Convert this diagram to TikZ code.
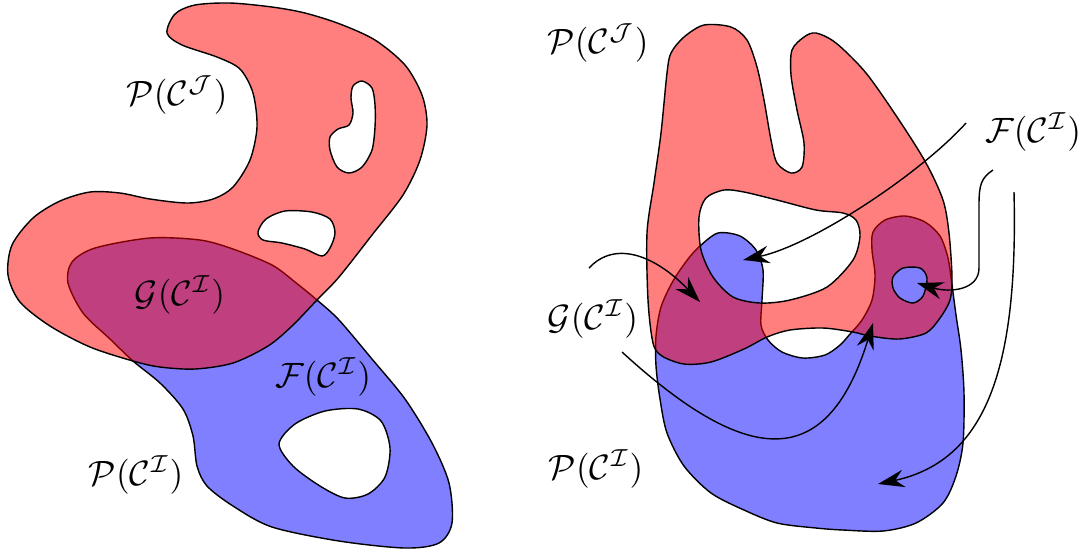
\documentclass[tikz,border=0pt]{standalone}
\usepackage{amsmath}
\usepackage{tikz}
\usetikzlibrary{arrows.meta}

\begin{document}
\begin{tikzpicture}[x=0.01cm, y=-0.01cm, >={Stealth[length=7.5pt,width=5pt,inset=2.5pt]},
	regionI/.style={draw=black, fill=blue, fill opacity=0.5, even odd rule},
	regionJ/.style={draw=black, fill=red, fill opacity=0.5, even odd rule}]
	\useasboundingbox (0,0) rectangle (1088,553);

	% Left: P(C^I) with its hole
	\draw[regionI] plot[smooth cycle] coordinates {(317,300) (339,320) (372,359) (405,399) (432,443) (449,483) (452,523) (439,543) (405,548) (339,541) (272,527) (233,506) (207,486) (197,466) (193,436) (183,409) (160,383) (133,361) (110,339) (83,313) (68,283) (72,262) (95,248) (150,238) (200,240) (233,249) (272,265) (295,282)}
		plot[smooth cycle] coordinates {(279,444) (295,424) (325,411) (358,409) (381,421) (390,448) (385,477) (368,494) (345,498) (320,486) (293,466)};

	% Left: P(C^J) with two holes
	\draw[regionJ] plot[smooth cycle] coordinates {(167,33) (175,14) (195,5) (230,3) (272,7) (305,13) (340,24) (375,40) (405,65) (422,95) (427,125) (420,160) (403,195) (372,235) (339,277) (317,300) (292,326) (268,346) (233,363) (195,369) (160,367) (133,361) (90,347) (50,326) (20,302) (8,275) (12,245) (33,218) (60,201) (90,192) (120,193) (150,199) (187,203) (213,199) (233,187) (250,160) (257,127) (253,93) (240,69) (217,57) (182,45)}
		plot[smooth cycle] coordinates {(362,81) (372,88) (375,105) (375,127) (372,150) (362,167) (349,173) (337,167) (330,150) (330,137) (338,129) (349,125) (353,113) (351,98) (353,86)}
		plot[smooth cycle] coordinates {(258,232) (266,219) (285,211) (312,212) (330,219) (335,233) (330,248) (322,256) (305,249) (282,243) (263,240)};

	% Left labels
	\node (pjl) at (177,95) {$\mathcal{P}(\mathcal{C}^{\mathcal{J}})$};
	\node (gil) at (180,295) {$\mathcal{G}(\mathcal{C}^{\mathcal{I}})$};
	\node (fil) at (323,377) {$\mathcal{F}(\mathcal{C}^{\mathcal{I}})$};
	\node (pil) at (136,475) {$\mathcal{P}(\mathcal{C}^{\mathcal{I}})$};

	% Right: P(C^I)
	\draw[regionI] plot[smooth cycle] coordinates {(700,246) (718,233) (740,236) (756,250) (763,270) (762,300) (761,325) (768,340) (782,352) (803,358) (825,355) (840,345) (850,334) (862,320) (872,300) (875,275) (872,250) (873,232) (885,220) (905,216) (925,222) (940,236) (948,258) (952,285) (956,315) (961,350) (964,393) (963,443) (956,476) (943,503) (916,523) (883,531) (843,530) (816,528) (777,523) (744,510) (711,493) (684,466) (667,433) (660,399) (656,366) (656,336) (661,307) (673,281) (688,259)};

	% Right: P(C^J) with two holes
	\draw[regionJ] plot[smooth cycle] coordinates {(667,73) (671,53) (684,37) (704,25) (731,27) (747,40) (757,67) (764,100) (771,140) (777,163) (791,173) (802,167) (804,143) (797,110) (791,75) (792,50) (804,37) (816,33) (836,43) (866,73) (899,120) (926,163) (943,200) (949,233) (952,277) (950,300) (940,318) (926,333) (899,339) (870,336) (853,332) (823,328) (790,330) (767,337) (744,349) (711,362) (684,364) (662,356) (653,343) (648,300) (647,233) (654,183) (661,133)}
		plot[smooth cycle] coordinates {(724,190) (744,192) (777,200) (816,210) (843,213) (856,220) (860,236) (853,260) (827,287) (790,300) (760,303) (733,297) (713,277) (701,250) (699,217) (706,198)}
		plot[smooth cycle] coordinates {(893,277) (903,268) (920,268) (927,278) (923,296) (913,303) (900,298) (893,288)};

	% Right labels
	\node (pjr) at (598,43) {$\mathcal{P}(\mathcal{C}^{\mathcal{J}})$};
	\node (fir) at (1033,132) {$\mathcal{F}(\mathcal{C}^{\mathcal{I}})$};
	\node (gir) at (593,319) {$\mathcal{G}(\mathcal{C}^{\mathcal{I}})$};
	\node (pir) at (596,469) {$\mathcal{P}(\mathcal{C}^{\mathcal{I}})$};

	% arrow ends
	\coordinate (f1) at (966,123);
	\coordinate (f2) at (993,170);
	\coordinate (f3) at (1014,192);
	\coordinate (g1) at (589,268);
	\coordinate (g2) at (622,352);
	\coordinate (bump) at (743,260);
	\coordinate (island) at (917,283);
	\coordinate (bottom) at (878,484);
	\coordinate (gleft) at (700,302);
	\coordinate (gright) at (873,323);

	% F arrows
	\draw[->] (f1) .. controls +(-45,50) and +(70,-15) .. (bump);
	\draw[->] (f2) .. controls +(-12,8) and +(0,-20) .. (979,205) -- (979,268) .. controls +(0,22) and +(33,10) .. (island);
	\draw[->] (f3) .. controls +(4,168) and +(112,-24) .. (bottom);

	% G arrows
	\draw[->] (g1) .. controls +(26,-28) and +(-45,-47) .. (gleft);
	\draw[->] (g2) .. controls +(118,108) and +(-48,157) .. (gright);
\end{tikzpicture}
\end{document}
